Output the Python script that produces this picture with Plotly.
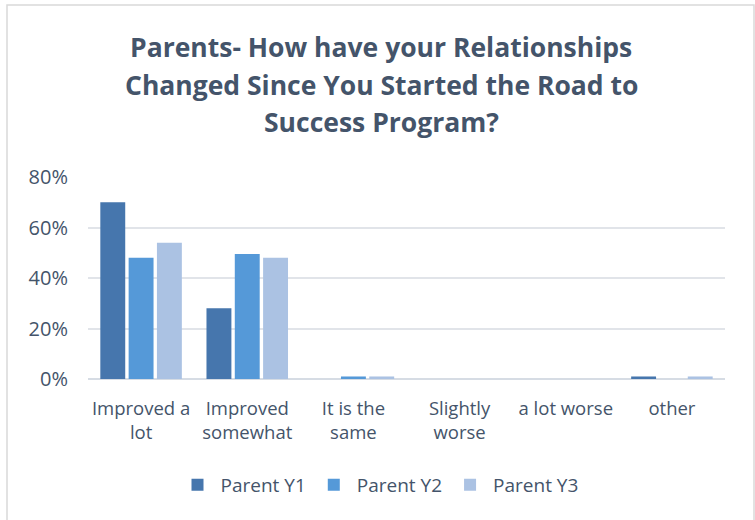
import plotly.graph_objects as go

categories = ["Improved a<br>lot", "Improved<br>somewhat", "It is the<br>same", "Slightly<br>worse", "a lot worse", "other"]
parent_y1 = [70, 28, 0, 0, 0, 1]
parent_y2 = [48, 49.5, 1, 0, 0, 0]
parent_y3 = [54, 48, 1, 0, 0, 1]
series_names = ["Parent Y1", "Parent Y2", "Parent Y3"]
title_lines = ["Parents- How have your Relationships", "Changed Since You Started the Road to", "Success Program?"]
colors = ["#4676ad", "#5599d8", "#abc2e3"]
TXT = "#44546a"
FONT = "Open Sans, Liberation Sans, sans-serif"

fig = go.Figure()
for name, vals, c in zip(series_names, [parent_y1, parent_y2, parent_y3], colors):
    fig.add_trace(go.Bar(x=categories, y=vals, name=name, marker=dict(color=c, line=dict(width=0))))

L, R, T, B = 88, 30, 177, 141
W, H = 755, 520
pw, ph = W - L - R, H - T - B

def px_x(x):
    return (x - L) / pw

def px_y(y):
    return (H - B - y) / ph

fig.update_layout(
    width=W, height=H,
    margin=dict(l=L, r=R, t=T, b=B),
    paper_bgcolor="white", plot_bgcolor="white",
    font=dict(family=FONT, color=TXT, size=16),
    barmode="group", bargap=0.2, bargroupgap=0.12,
    legend=dict(orientation="h", x=px_x(379), xanchor="center", y=px_y(485), yanchor="middle",
                font=dict(size=19, color=TXT), traceorder="normal", itemwidth=36),
    showlegend=True,
)
for i, (line, yc) in enumerate(zip(title_lines, [47, 85, 122])):
    fig.add_annotation(text=line, xref="paper", yref="paper", x=px_x(381), y=px_y(yc),
                       xanchor="center", yanchor="middle", showarrow=False,
                       font=dict(size=26.5, color=TXT, family=FONT, weight="bold"))

fig.update_yaxes(range=[0, 80], dtick=20, ticksuffix="%", gridcolor="#e1e4e9", gridwidth=1.5,
                 zeroline=True, zerolinecolor="#d6dce4", zerolinewidth=2,
                 tickfont=dict(size=20, color=TXT), ticklabelstandoff=19, showline=False)
fig.update_xaxes(tickfont=dict(size=18.5, color=TXT), ticklabelstandoff=16, showline=False, ticks="")

# Outer border of chart area
fig.add_shape(type="rect", xref="paper", yref="paper",
              x0=px_x(7), x1=px_x(754), y0=px_y(530), y1=px_y(5),
              line=dict(color="#d9d9d9", width=1.5), fillcolor="rgba(0,0,0,0)", layer="below")

fig.write_html("out.html", config={"displayModeBar": False},
               post_script="document.body.style.margin='0';document.body.style.overflow='hidden';")
